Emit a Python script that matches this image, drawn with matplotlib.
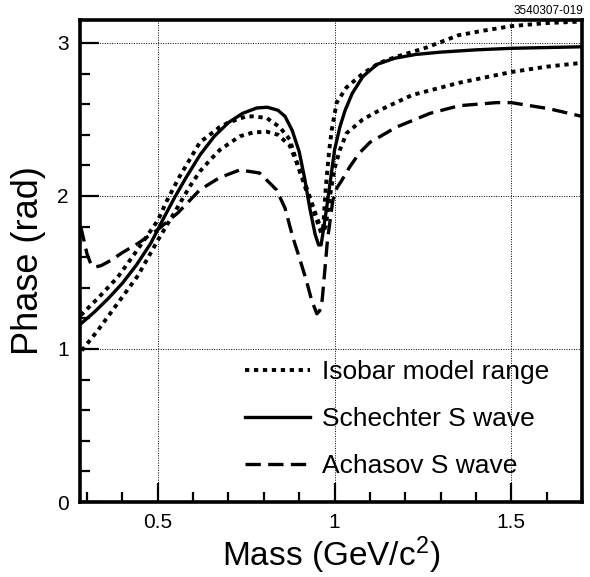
import matplotlib
matplotlib.use("Agg")
import matplotlib.pyplot as plt
from matplotlib.ticker import MultipleLocator, FixedLocator, FixedFormatter

plt.rcParams['font.family'] = ['Liberation Sans', 'DejaVu Sans']
plt.rcParams['mathtext.default'] = 'regular'

# --- data ---
schechter_x = [0.285, 0.32, 0.36, 0.40, 0.44, 0.48, 0.50, 0.52, 0.55, 0.58, 0.62, 0.66, 0.70, 0.74, 0.78,
               0.81, 0.84, 0.86, 0.88, 0.90, 0.915, 0.93, 0.945, 0.955, 0.962, 0.97, 0.98, 0.99, 1.0,
               1.015, 1.03, 1.05, 1.08, 1.12, 1.17, 1.23, 1.3, 1.4, 1.5, 1.6, 1.7]
schechter_y = [1.17, 1.24, 1.33, 1.43, 1.55, 1.69, 1.78, 1.87, 2.00, 2.12, 2.27, 2.39, 2.48, 2.54, 2.575,
               2.58, 2.56, 2.52, 2.43, 2.29, 2.12, 1.92, 1.75, 1.68, 1.68, 1.80, 1.96, 2.13, 2.30,
               2.45, 2.56, 2.67, 2.78, 2.86, 2.90, 2.925, 2.94, 2.955, 2.965, 2.97, 2.975]

iso_hi_x = [0.282, 0.33, 0.387, 0.44, 0.50, 0.526, 0.56, 0.619, 0.675, 0.70, 0.75, 0.77, 0.808, 0.845,
            0.873, 0.90, 0.93, 0.95, 0.962, 0.968, 0.975, 0.985, 0.992, 1.006, 1.034, 1.08, 1.127,
            1.175, 1.26, 1.35, 1.42, 1.5, 1.6, 1.7]
iso_hi_y = [1.22, 1.33, 1.47, 1.64, 1.84, 1.97, 2.12, 2.35, 2.45, 2.48, 2.52, 2.52, 2.51, 2.45,
            2.37, 2.17, 1.97, 1.84, 1.76, 1.80, 2.05, 2.30, 2.43, 2.61, 2.71, 2.80, 2.87,
            2.91, 2.97, 3.05, 3.08, 3.11, 3.13, 3.14]

iso_lo_x = [0.285, 0.33, 0.387, 0.444, 0.50, 0.557, 0.59, 0.619, 0.65, 0.675, 0.70, 0.732, 0.77, 0.808,
            0.84, 0.873, 0.90, 0.92, 0.95, 0.966, 0.975, 0.985, 1.0, 1.015, 1.034, 1.08, 1.127, 1.22,
            1.353, 1.5, 1.6, 1.7]
iso_lo_y = [0.99, 1.12, 1.30, 1.48, 1.71, 1.93, 2.06, 2.16, 2.24, 2.30, 2.34, 2.39, 2.415, 2.42,
            2.40, 2.33, 2.18, 2.06, 1.86, 1.76, 1.80, 1.97, 2.18, 2.30, 2.41, 2.50, 2.56, 2.66,
            2.74, 2.81, 2.845, 2.87]

achasov_x = [0.282, 0.29, 0.30, 0.31, 0.322, 0.34, 0.368, 0.40, 0.444, 0.50, 0.557, 0.619, 0.675, 0.732,
             0.788, 0.836, 0.86, 0.882, 0.90, 0.92, 0.935, 0.95, 0.958, 0.965, 0.972, 0.98, 0.995,
             1.006, 1.02, 1.043, 1.07, 1.1, 1.175, 1.27, 1.353, 1.458, 1.5, 1.607, 1.7]
achasov_y = [1.80, 1.72, 1.62, 1.56, 1.535, 1.545, 1.58, 1.63, 1.69, 1.78, 1.89, 2.04, 2.12, 2.17,
             2.15, 2.04, 1.92, 1.73, 1.60, 1.45, 1.32, 1.23, 1.25, 1.32, 1.50, 1.71, 1.97,
             2.05, 2.10, 2.19, 2.28, 2.35, 2.45, 2.54, 2.59, 2.61, 2.61, 2.57, 2.52]

x_ticks = [0.5, 1.0, 1.5]
x_tick_labels = ['0.5', '1', '1.5']
y_ticks = [0, 1, 2, 3]
y_tick_labels = ['0', '1', '2', '3']

labels = ['Isobar model range', 'Schechter S wave', 'Achasov S wave']

# --- figure ---
fig = plt.figure(figsize=(5.9, 5.77), dpi=100)
ax = fig.add_axes([80/590, 75/577, 502/590, 482/577])

lw = 2.4
dot = (0, (1.1, 1.2))
dash = (0, (4.6, 2.2))
l1, = ax.plot(iso_hi_x, iso_hi_y, color='black', lw=2.8, linestyle=dot, label=labels[0])
ax.plot(iso_lo_x, iso_lo_y, color='black', lw=2.8, linestyle=dot)
l2, = ax.plot(schechter_x, schechter_y, color='black', lw=lw, linestyle='-', label=labels[1])
l3, = ax.plot(achasov_x, achasov_y, color='black', lw=lw, linestyle=dash, label=labels[2])

ax.set_xlim(0.28, 1.7)
ax.set_ylim(0, 3.15)

ax.xaxis.set_major_locator(FixedLocator(x_ticks))
ax.xaxis.set_major_formatter(FixedFormatter(x_tick_labels))
ax.xaxis.set_minor_locator(MultipleLocator(0.1))
ax.yaxis.set_major_locator(FixedLocator(y_ticks))
ax.yaxis.set_major_formatter(FixedFormatter(y_tick_labels))
ax.yaxis.set_minor_locator(MultipleLocator(0.2))

ax.tick_params(which='both', direction='in', top=False, right=False, width=1.6,
               labelsize=15, colors='black')
ax.tick_params(which='major', length=14, pad=8)
ax.tick_params(which='minor', length=7)

for s in ax.spines.values():
    s.set_linewidth(2.6)

ax.grid(True, which='major', linestyle=(0, (1, 1.5)), color='black', linewidth=0.7)

ax.set_xlabel('Mass (GeV/c$^2$)', fontsize=24, labelpad=2)
ax.set_ylabel('Phase (rad)', fontsize=26, labelpad=8)

leg = ax.legend(handles=[l1, l2, l3], loc='center left', bbox_to_anchor=(0.329, 0.172),
                frameon=False, fontsize=19, handlelength=2.46, handletextpad=0.45,
                labelspacing=0.86, borderpad=0, borderaxespad=0)

fig.text(0.988, 0.992, '3540307-019', ha='right', va='top', fontsize=8.5)

fig.savefig('out.png', dpi=100)
